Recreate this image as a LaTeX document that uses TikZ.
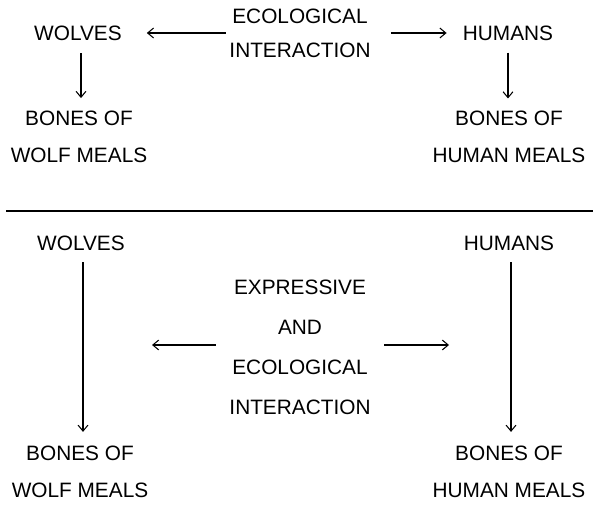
\documentclass[tikz,border=0pt]{standalone}
\usepackage{fontspec}
\setmainfont{Liberation Sans}
\usepackage{tikz}
\usetikzlibrary{arrows.meta, positioning}

\tikzset{
  lbl/.style={font=\fontsize{14.8}{26.3}\selectfont, inner sep=0pt, align=center},
  midlbl/.style={lbl, font=\fontsize{14.8}{28.5}\selectfont},
  toplbl/.style={lbl, font=\fontsize{14.8}{24.2}\selectfont},
  arr/.style={-{Straight Barb[length=4.2pt,width=7pt]}, line width=0.75pt},
}

\begin{document}
\begin{tikzpicture}[x=0.025cm, y=-0.025cm]
  \useasboundingbox (0,0) rectangle (593,505);

  % Upper panel
  \node[lbl] (wolvesT) at (78,33) {WOLVES};
  \node[lbl] (humansT) at (508,33) {HUMANS};
  \node[toplbl] (ecoT) at (300,33) {ECOLOGICAL\\INTERACTION};
  \node[lbl, anchor=north] (bonesWT) at (79,110.5) {BONES OF\\WOLF MEALS};
  \node[lbl, anchor=north] (bonesHT) at (509,110.5) {BONES OF\\HUMAN MEALS};

  \draw[arr, shorten <=0.08cm, shorten >=0.62cm] (ecoT.west) -- (wolvesT.east);
  \draw[arr, shorten <=0.5cm, shorten >=0.4cm] (ecoT.east) -- (humansT.west);
  \draw[arr, shorten <=0.31cm, shorten >=0.31cm] (wolvesT.south) ++(3,0) coordinate (wt) -- (wt |- bonesWT.north);
  \draw[arr, shorten <=0.3cm, shorten >=0.3cm] (humansT.south) -- (humansT.south |- bonesHT.north);

  % Rule between panels
  \draw[line width=1.1pt] (6,211) -- (593,211);

  % Lower panel
  \node[lbl] (wolvesB) at (81,243) {WOLVES};
  \node[lbl] (humansB) at (509,243) {HUMANS};
  \node[midlbl] (expr) at (300,347) {EXPRESSIVE\\AND\\ECOLOGICAL\\INTERACTION};
  \node[lbl, anchor=north] (bonesWB) at (80,445.5) {BONES OF\\WOLF MEALS};
  \node[lbl, anchor=north] (bonesHB) at (509,445.5) {BONES OF\\HUMAN MEALS};

  \coordinate (lend) at (152,345);
  \coordinate (rend) at (449,345);
  \draw[arr, shorten <=0.33cm] (expr.west |- lend) -- (lend);
  \draw[arr, shorten <=0.33cm] (expr.east |- rend) -- (rend);
  \draw[arr, shorten <=0.29cm, shorten >=0.34cm] (wolvesB.south) ++(2,0) coordinate (wb) -- (wb |- bonesWB.north);
  \draw[arr, shorten <=0.29cm, shorten >=0.34cm] (humansB.south) ++(2,0) coordinate (hb) -- (hb |- bonesHB.north);
\end{tikzpicture}
\end{document}
